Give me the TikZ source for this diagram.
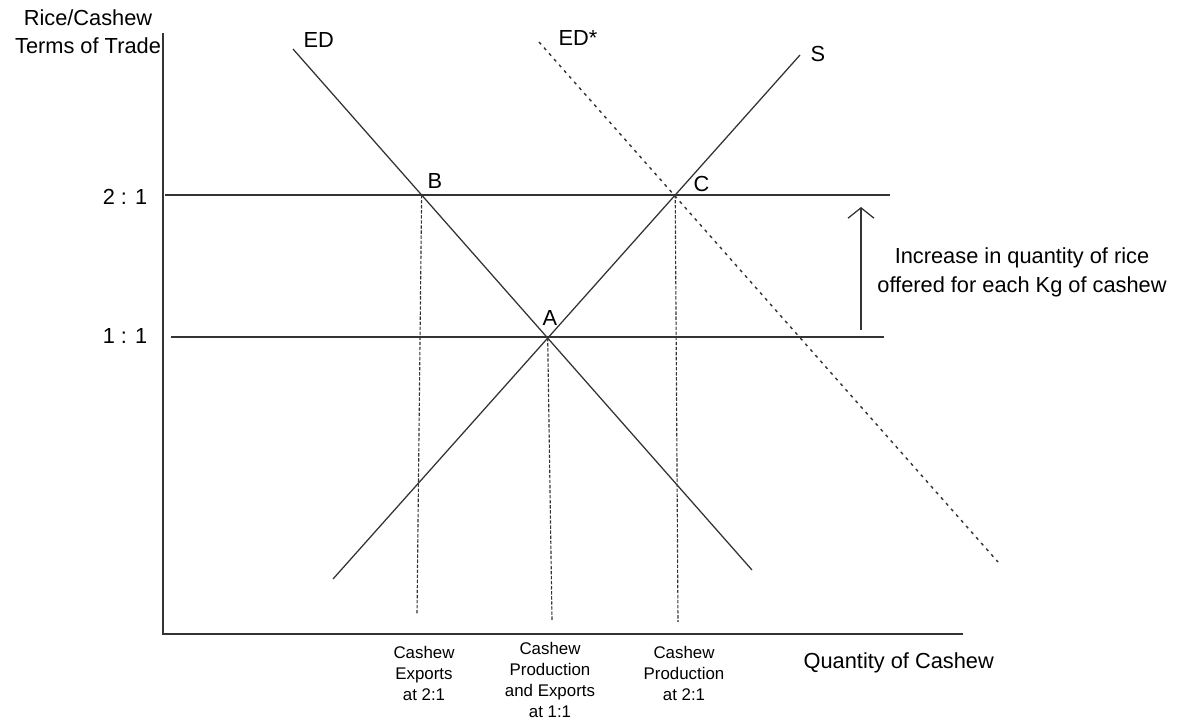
\documentclass[tikz,border=0pt]{standalone}
\usepackage{fontspec}
\setmainfont{Liberation Sans}
\usetikzlibrary{arrows.meta,intersections}

\begin{document}
\begin{tikzpicture}[x=0.025cm,y=-0.025cm,line width=0.9pt,draw=black!80,
  every node/.style={inner sep=0pt,font=\fontsize{15.5}{20}\selectfont},
  small/.style={align=center,anchor=base,font=\fontsize{12}{14.9}\selectfont},
  dropline/.style={line width=0.8pt,dash pattern=on 2.4pt off 1.2pt},
  edstar/.style={line width=1pt,dash pattern=on 2.2pt off 3.2pt}]
  \useasboundingbox (0,0) rectangle (1180,723);
  % axes
  \coordinate (O) at (163,634);
  \coordinate (ytop) at (163,33);
  \coordinate (xend) at (963,634);
  \draw (ytop) -- (O) -- (xend);
  % price lines
  \coordinate (two0) at (165,195);
  \coordinate (two1) at (890,195);
  \coordinate (one0) at (171,337);
  \coordinate (one1) at (884,337);
  \draw[name path=two] (two0) -- (two1);
  \draw (one0) -- (one1);
  % curves
  \coordinate (ED0) at (293,49);
  \coordinate (ED1) at (752,570);
  \coordinate (S0) at (333,579);
  \coordinate (S1) at (800,55);
  \coordinate (EDs0) at (539,42);
  \coordinate (EDs1) at (998,562);
  \draw[name path=ED] (ED0) -- (ED1);
  \draw[name path=S] (S0) -- (S1);
  \draw[edstar] (EDs0) -- (EDs1);
  \path[name intersections={of=ED and S,by=A}];
  \path[name intersections={of=ED and two,by=B}];
  \path[name intersections={of=S and two,by=C}];
  % drop lines
  \coordinate (qB) at (417,615);
  \coordinate (qA) at (552,620);
  \coordinate (qC) at (678,622);
  \draw[dropline] (B) -- (qB);
  \draw[dropline] (A) -- (qA);
  \draw[dropline] (C) -- (qC);
  % arrow
  \coordinate (up0) at (861,330);
  \coordinate (up1) at (861,207);
  \draw[-{Straight Barb[length=2.6mm,width=6.5mm]}] (up0) -- (up1);
  % labels
  \node[anchor=base west] (lED) at (303,48) {ED};
  \node[anchor=base west] (lEDs) at (558,46) {ED*};
  \node[anchor=base west] (lS) at (810,61) {S};
  \node[anchor=base west] (lB) at (427,188) {B};
  \node[anchor=base] (lA) at (550,325) {A};
  \node[anchor=base west] (lC) at (693,191) {C};
  \node[anchor=base] (l21) at (125,204) {2 : 1};
  \node[anchor=base] (l11) at (125,343) {1 : 1};
  \node[anchor=base,align=center] (yl) at (88,54) {Rice/Cashew\\Terms of Trade};
  \node[anchor=base west] (xl) at (803,668) {Quantity of Cashew};
  \node[anchor=base,align=center] (inc) at (1022,292) {Increase in quantity of rice\\offered for each Kg of cashew};
  \node[small] (tB) at (424,700) {Cashew\\Exports\\at 2:1};
  \node[small] (tA) at (550,717) {Cashew\\Production\\and Exports\\at 1:1};
  \node[small] (tC) at (684,700) {Cashew\\Production\\at 2:1};
\end{tikzpicture}
\end{document}
